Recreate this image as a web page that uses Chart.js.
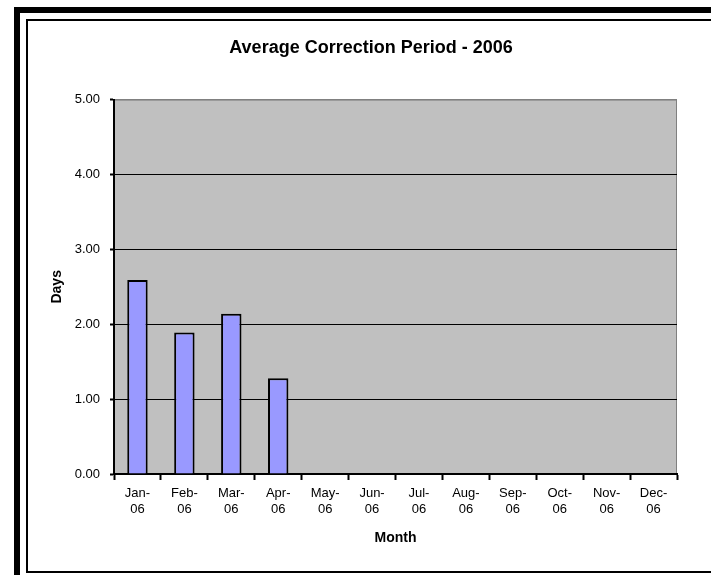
<!DOCTYPE html>
<html>
<head>
   <meta charset="utf-8">
   <script src="https://cdn.jsdelivr.net/npm/chart.js@4.4.1/dist/chart.umd.min.js"></script>
   <title>Average Correction Period - 2006</title>
   <style>
      body { margin: 0; width: 711px; height: 575px; overflow: hidden; background: #fff; position: relative; }
      #outer { position: absolute; left: 14px; top: 7px; width: 800px; height: 700px;
               border-left: 6px solid #000; border-top: 6px solid #000; }
      #inner { position: absolute; left: 26px; top: 19px; width: 800px; height: 550px;
               border: 2px solid #000; }
      #bar-chart { position: absolute; left: 0; top: 0; }
   </style>
</head>
<body>
   <div id="outer"></div>
   <div id="inner"></div>
   <canvas id="bar-chart" width="742" height="575"></canvas>
<script>
   // values
   const months = [['Jan-', '06'], ['Feb-', '06'], ['Mar-', '06'], ['Apr-', '06'],
                   ['May-', '06'], ['Jun-', '06'], ['Jul-', '06'], ['Aug-', '06'],
                   ['Sep-', '06'], ['Oct-', '06'], ['Nov-', '06'], ['Dec-', '06']];
   const days = [2.59, 1.89, 2.14, 1.28, null, null, null, null, null, null, null, null];
   const yTicks = [0, 1, 2, 3, 4, 5];

   Chart.defaults.font.family = "'Liberation Sans', Arial, sans-serif";
   Chart.defaults.color = '#000';

   // gray plot area with a thin gray frame, like the Excel original
   const plotArea = {
      id: 'plotArea',
      beforeDraw(chart) {
         const ctx = chart.ctx;
         const a = chart.chartArea;
         ctx.save();
         ctx.fillStyle = '#c0c0c0';
         ctx.fillRect(a.left, a.top, a.right - a.left, a.bottom - a.top);
         ctx.strokeStyle = '#808080';
         ctx.lineWidth = 1;
         ctx.strokeRect(a.left, a.top + 0.5, a.right - a.left - 0.5, a.bottom - a.top);
         ctx.restore();
      }
   };

   new Chart(document.getElementById('bar-chart'), {
      type: 'bar',
      data: {
         labels: months,
         datasets: [{
            label: 'Days',
            data: days,
            backgroundColor: '#9999ff',
            borderColor: '#000',
            borderWidth: 2,
            categoryPercentage: 1,
            barPercentage: 0.435
         }]
      },
      options: {
         responsive: false,
         animation: false,
         // symmetric side padding so the title centres where Excel put it
         layout: { padding: { left: 65, right: 65, top: 0, bottom: 0 } },
         plugins: {
            legend: { display: false },
            tooltip: { enabled: false },
            title: {
               display: true,
               text: 'Average Correction Period - 2006',
               font: { size: 18, weight: 'bold' },
               padding: { top: 37, bottom: 41 }
            }
         },
         scales: {
            x: {
               afterFit(scale) { scale.height = 101; },
               border: { color: '#000', width: 2 },
               grid: { drawOnChartArea: false, tickLength: 6, tickColor: '#000', tickWidth: 2 },
               ticks: { font: { size: 13 }, padding: 6, maxRotation: 0, autoSkip: false },
               title: {
                  display: true, text: 'Month',
                  font: { size: 14, weight: 'bold' },
                  padding: { top: 0, bottom: 28 }
               }
            },
            y: {
               min: 0,
               max: 5,
               afterFit(scale) { scale.width = 49; },
               afterBuildTicks(scale) { scale.ticks = yTicks.map(v => ({ value: v })); },
               border: { color: '#000', width: 2 },
               grid: {
                  color: ctx => ctx.tick && ctx.tick.value === 5 ? '#808080' : '#000',
                  tickColor: '#000',
                  tickLength: 4,
                  tickWidth: 2
               },
               ticks: {
                  font: { size: 13 },
                  padding: 10,
                  callback: v => v.toFixed(2)
               },
               title: {
                  display: true, text: 'Days',
                  font: { size: 14, weight: 'bold' },
                  padding: { top: -16, bottom: 0 }
               }
            }
         }
      },
      plugins: [plotArea]
   });
</script>
</body>
</html>
